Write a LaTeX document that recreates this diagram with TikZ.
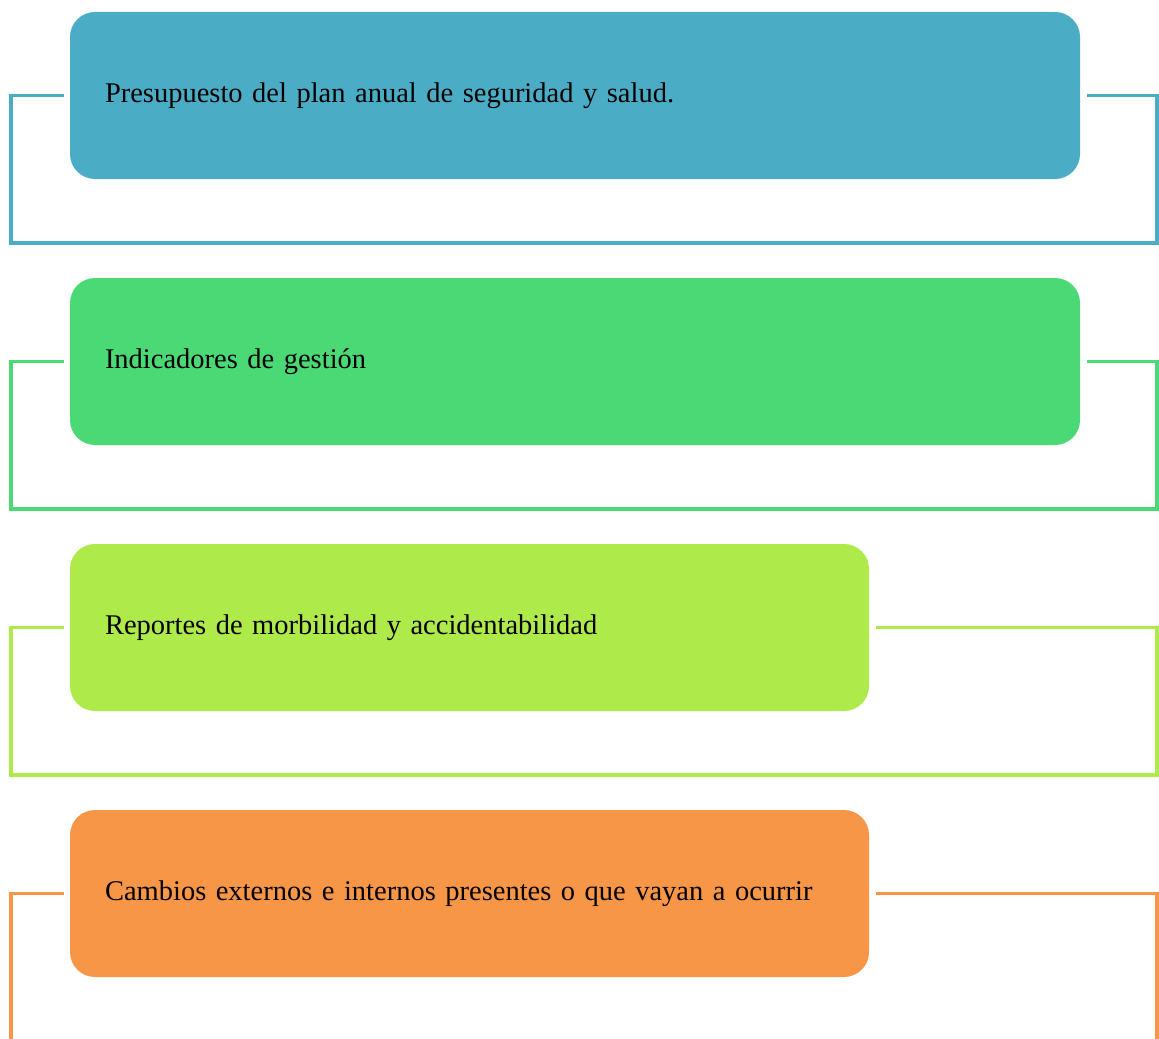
\documentclass[tikz,border=0pt]{standalone}
\usepackage{xcolor}
\usepackage{fontspec}
\setmainfont{Liberation Serif}
\usepackage{tikz}
\usetikzlibrary{positioning, calc}

\definecolor{budgetblue}{HTML}{4BACC6}
\definecolor{indgreen}{HTML}{4AD975}
\definecolor{replime}{HTML}{AEEB4A}
\definecolor{changeorange}{HTML}{F79646}

\begin{document}
\begin{tikzpicture}[
    x=0.4pt, y=-0.4pt,
    box/.style={rounded corners=10pt, minimum height=66.8pt, inner xsep=14pt, outer sep=0pt, align=left, anchor=north west, font=\fontsize{11.4}{14}\selectfont},
    bracket/.style={line width=1.3pt}
]
    \useasboundingbox (0,0) rectangle (1159,1039);

    % Step 1
    \node[box, fill=budgetblue, text width=376pt] (budget) at (70,12) {Presupuesto del plan anual de seguridad y salud.};
    % Step 2
    \node[box, fill=indgreen, text width=376pt, below=39.6pt of budget.south west, anchor=north west] (indicators) {Indicadores de gestión};
    % Step 3
    \node[box, fill=replime, text width=291.6pt, below=39.6pt of indicators.south west, anchor=north west] (reports) {Reportes de morbilidad y accidentabilidad};
    % Step 4
    \node[box, fill=changeorange, text width=291.6pt, below=39.6pt of reports.south west, anchor=north west] (changes) {Cambios externos e internos presentes o que vayan a ocurrir};

    \draw[bracket, budgetblue] ([xshift=-2.6pt]budget.west) -| (11,243) -- (1157,243) |- ([xshift=2.6pt]budget.east);
    \draw[bracket, indgreen] ([xshift=-2.6pt]indicators.west) -| (11,509) -- (1157,509) |- ([xshift=2.6pt]indicators.east);
    \draw[bracket, replime] ([xshift=-2.6pt]reports.west) -| (11,775) -- (1157,775) |- ([xshift=2.6pt]reports.east);
    \draw[bracket, changeorange] ([xshift=-2.6pt]changes.west) -| (11,1041) -- (1157,1041) |- ([xshift=2.6pt]changes.east);
\end{tikzpicture}
\end{document}
